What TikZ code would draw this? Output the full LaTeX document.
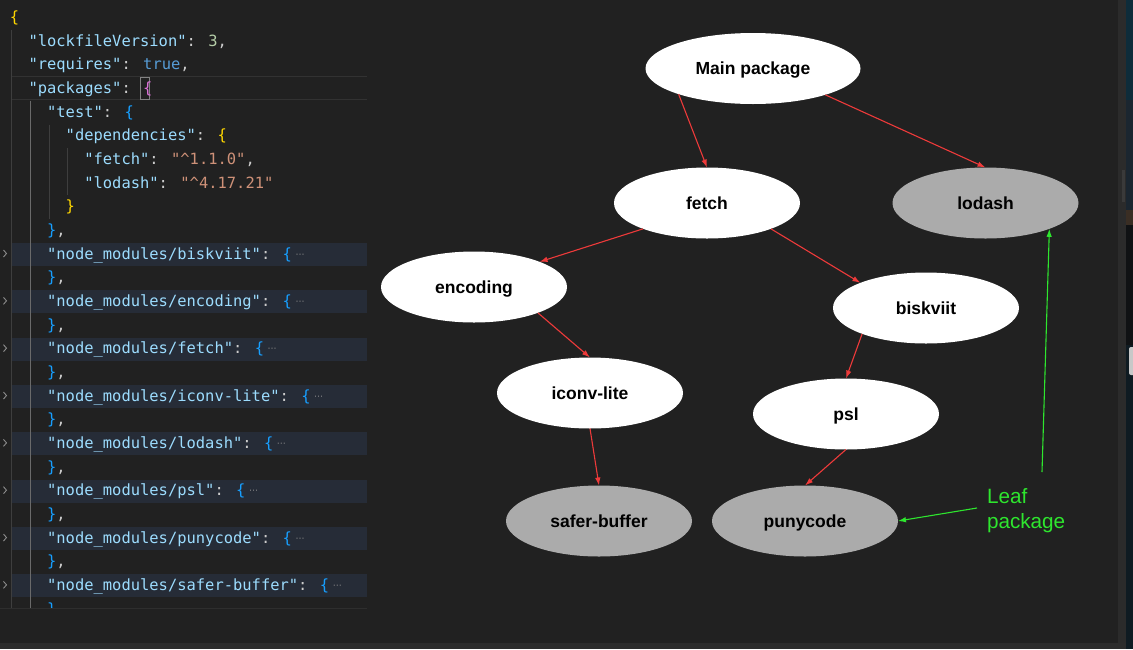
\documentclass[tikz,border=0pt]{standalone}
\usepackage{fontspec}
\setmainfont{Liberation Sans}
\newfontfamily\codefont{DejaVu Sans Mono}
\newfontfamily\dvsfont{DejaVu Sans}
\usetikzlibrary{shapes.geometric,arrows.meta}
\definecolor{bg}{HTML}{212121}
\definecolor{ckey}{HTML}{9CDCFE}
\definecolor{cpun}{HTML}{CCCCCC}
\definecolor{cnum}{HTML}{B5CEA8}
\definecolor{cbool}{HTML}{569CD6}
\definecolor{cstr}{HTML}{CE9178}
\definecolor{bgold}{HTML}{FFD700}
\definecolor{bpink}{HTML}{DA70D6}
\definecolor{bblue}{HTML}{179FFF}
\definecolor{foldbg}{HTML}{262C37}
\definecolor{ellcol}{HTML}{8C8C8C}
\definecolor{guidedim}{HTML}{3E3E3E}
\definecolor{guideact}{HTML}{6A6A6A}
\definecolor{edgered}{HTML}{EE3A3A}
\definecolor{leafgreen}{HTML}{2EE62E}
\definecolor{leafgray}{HTML}{ABABAB}
\newcommand\jk[1]{\textcolor{ckey}{"#1"}}
\newcommand\jfold{\hspace{3.5pt}{\dvsfont\fontsize{9}{9}\selectfont\textcolor{ellcol}{\raisebox{1.8pt}{⋯}}}}
\tikzset{
  codeline/.style={anchor=base west, inner sep=0pt, outer sep=0pt, text=cpun,
    font=\codefont\fontsize{15.45}{18}\selectfont},
  pkg/.style={ellipse, fill=white, minimum width=186pt, minimum height=71pt,
    inner sep=0pt, outer sep=0pt, text=black, text height=12.8pt, text depth=0pt,
    font=\bfseries\fontsize{17.5}{20}\selectfont},
  leafpkg/.style={pkg, fill=leafgray},
  dep/.style={draw=edgered, line width=1.1pt, -{Latex[length=8pt,width=5.5pt]}},
  note/.style={draw=leafgreen, line width=1.1pt, -{Latex[length=8pt,width=5.5pt]}},
  notetext/.style={anchor=base west, inner sep=0pt, outer sep=0pt, text=leafgreen,
    font=\fontsize{20.7}{25}\selectfont},
  guide/.style={line width=1pt},
  chevron/.style={draw=ellcol, line width=0.9pt},
}
\begin{document}
\begin{tikzpicture}[x=1pt,y=-1pt]
\useasboundingbox (0,0) rectangle (1133,649);
% window background
\fill[bg] (0,0) rectangle (1133,649);
\fill[color={rgb,255:red,43;green,43;blue,43}] (1118,0) rectangle (1126,643);
\fill[color={rgb,255:red,58;green,58;blue,58}] (1121.5,170) rectangle (1125,202);
\fill[color={rgb,255:red,44;green,44;blue,44}] (0,643) rectangle (1126,649);
% desktop strip
\fill[color={rgb,255:red,14;green,44;blue,58}] (1126,0) rectangle (1133,100);
\fill[color={rgb,255:red,27;green,38;blue,48}] (1126,100) rectangle (1133,210);
\fill[color={rgb,255:red,58;green,46;blue,36}] (1126,210) rectangle (1133,225);
\fill[color={rgb,255:red,16;green,18;blue,20}] (1126,225) rectangle (1133,345);
\fill[color={rgb,255:red,15;green,27;blue,34}] (1126,345) rectangle (1133,649);
\fill[color={rgb,255:red,200;green,200;blue,200}, rounded corners=2pt] (1129,347) rectangle (1136,375);
% code panel
\begin{scope}
\clip (0,0) rectangle (367,608);
\foreach \n in {11,13,...,25}{
  \pgfmathsetmacro\bl{22.3+23.67*(\n-1)}
  \fill[foldbg] (11.7,\bl-16) rectangle (367,\bl+7);
  \draw[chevron] (3.5,\bl-9) -- (6.5,\bl-5.5) -- (3.5,\bl-2);
}
\draw[color={rgb,255:red,50;green,50;blue,50}, line width=1pt] (11.7,76.8) -- (367,76.8) (11.7,99.8) -- (367,99.8);
\draw[guide, guidedim] (11.7,30) -- (11.7,608);
\draw[guide, guideact] (30.5,100.5) -- (30.5,608);
\draw[guide, guidedim] (49.1,124.7) -- (49.1,218.7);
\draw[guide, guidedim] (67.7,148.3) -- (67.7,195);
\draw[color={rgb,255:red,130;green,130;blue,130}, line width=0.8pt] (140.5,77.5) rectangle (149.5,99.2);
\node[codeline] (c1) at (9.9,22.3) {\textcolor{bgold}{\{}};
\node[codeline] (c2) at (28.5,46.0) {\jk{lockfileVersion}: \textcolor{cnum}{3},};
\node[codeline] (c3) at (28.5,69.6) {\jk{requires}: \textcolor{cbool}{true},};
\node[codeline] (c4) at (28.5,93.3) {\jk{packages}: \textcolor{bpink}{\{}};
\node[codeline] (c5) at (47.1,117.0) {\jk{test}: \textcolor{bblue}{\{}};
\node[codeline] (c6) at (65.7,140.7) {\jk{dependencies}: \textcolor{bgold}{\{}};
\node[codeline] (c7) at (84.3,164.3) {\jk{fetch}: \textcolor{cstr}{"\textasciicircum 1.1.0"},};
\node[codeline] (c8) at (84.3,188.0) {\jk{lodash}: \textcolor{cstr}{"\textasciicircum 4.17.21"}};
\node[codeline] (c9) at (65.7,211.7) {\textcolor{bgold}{\}}};
\node[codeline] (c10) at (47.1,235.3) {\textcolor{bblue}{\}},};
\node[codeline] (c11) at (47.1,259.0) {\jk{node\_modules/biskviit}: \textcolor{bblue}{\{}\jfold};
\node[codeline] (c12) at (47.1,282.7) {\textcolor{bblue}{\}},};
\node[codeline] (c13) at (47.1,306.3) {\jk{node\_modules/encoding}: \textcolor{bblue}{\{}\jfold};
\node[codeline] (c14) at (47.1,330.0) {\textcolor{bblue}{\}},};
\node[codeline] (c15) at (47.1,353.7) {\jk{node\_modules/fetch}: \textcolor{bblue}{\{}\jfold};
\node[codeline] (c16) at (47.1,377.4) {\textcolor{bblue}{\}},};
\node[codeline] (c17) at (47.1,401.0) {\jk{node\_modules/iconv-lite}: \textcolor{bblue}{\{}\jfold};
\node[codeline] (c18) at (47.1,424.7) {\textcolor{bblue}{\}},};
\node[codeline] (c19) at (47.1,448.4) {\jk{node\_modules/lodash}: \textcolor{bblue}{\{}\jfold};
\node[codeline] (c20) at (47.1,472.0) {\textcolor{bblue}{\}},};
\node[codeline] (c21) at (47.1,495.7) {\jk{node\_modules/psl}: \textcolor{bblue}{\{}\jfold};
\node[codeline] (c22) at (47.1,519.4) {\textcolor{bblue}{\}},};
\node[codeline] (c23) at (47.1,543.0) {\jk{node\_modules/punycode}: \textcolor{bblue}{\{}\jfold};
\node[codeline] (c24) at (47.1,566.7) {\textcolor{bblue}{\}},};
\node[codeline] (c25) at (47.1,590.4) {\jk{node\_modules/safer-buffer}: \textcolor{bblue}{\{}\jfold};
\node[codeline] (c26) at (47.1,614.0) {\textcolor{bblue}{\}},};
\end{scope}
\draw[color={rgb,255:red,46;green,46;blue,46}, line width=1pt] (0,608.5) -- (367,608.5);
% dependency graph
\node[pkg, minimum width=215pt] (main) at (753,68.5) {Main package};
\node[pkg] (fetch) at (707,203) {fetch};
\node[leafpkg] (lodash) at (985.5,203) {lodash};
\node[pkg] (encoding) at (474,287) {encoding};
\node[pkg] (biskviit) at (926,308) {biskviit};
\node[pkg] (iconv) at (590,393) {iconv-lite};
\node[pkg] (psl) at (846,414) {psl};
\node[leafpkg] (safer) at (599,521) {safer-buffer};
\node[leafpkg] (puny) at (805,521) {punycode};
\draw[dep] (main.199) -- (fetch.north);
\draw[dep] (main.340) -- (lodash.north);
\draw[dep] (fetch.202) -- (encoding.21);
\draw[dep] (fetch.338) -- (biskviit.159);
\draw[dep] (encoding.338) -- (iconv.north);
\draw[dep] (biskviit.202) -- (psl.north);
\draw[dep] (iconv.south) -- (safer.north);
\draw[dep] (psl.south) -- (puny.north);
% leaf annotation
\node[notetext] (leafa) at (987,503) {Leaf};
\node[notetext] (leafb) at (987,528) {package};
\coordinate (leafup) at (1042,472);
\coordinate (leafleft) at (977,508);
\draw[note] (leafup) -- (lodash.338);
\draw[note] (leafleft) -- (puny.east);
\end{tikzpicture}
\end{document}
